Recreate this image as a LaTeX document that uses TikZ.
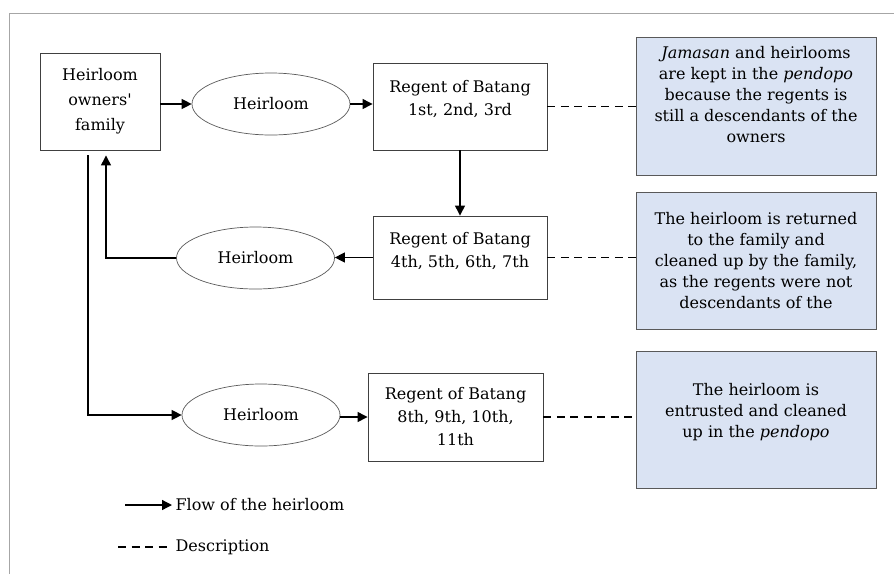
\documentclass[tikz,border=0pt]{standalone}
\usepackage{fontspec}
\setmainfont{DejaVu Serif}
\usetikzlibrary{shapes.geometric,arrows.meta}
\definecolor{descblue}{HTML}{DAE3F3}
\definecolor{framegray}{HTML}{A6A6A6}

\begin{document}
\begin{tikzpicture}[x=1pt,y=-1pt,
	box/.style={draw=black!75,line width=0.9pt,minimum width=174pt,minimum height=85pt,inner sep=0pt,align=center,font=\fontsize{16}{23}\selectfont},
	heir/.style={ellipse,draw=black!65,line width=0.7pt,minimum width=158pt,minimum height=62pt,inner sep=0pt,font=\fontsize{16}{22}\selectfont},
	desc/.style={draw=black!65,fill=descblue,line width=0.9pt,minimum width=240pt,minimum height=137pt,inner sep=0pt,align=center,font=\fontsize{16}{21}\selectfont},
	flow/.style={line width=1.3pt,-{Triangle[length=10pt,width=10pt]}},
	info/.style={line width=1.5pt,dash pattern=on 8pt off 5.5pt}]
		\useasboundingbox (0,0) rectangle (894,574);
		\draw[framegray,line width=1pt] (9,574) -- (9,13) -- (894,13);

		\node[box,minimum width=120pt,minimum height=97pt,font=\fontsize{16}{25}\selectfont] (fam) at (100,101.5) {Heirloom\\owners\textquotesingle\\family};

		%row 1
		\node[heir] (heir1) at (271,104) {Heirloom};
		\node[box,minimum height=87pt,text depth=17pt] (reg1) at (460,106.5) {Regent of Batang\\1st, 2nd, 3rd};
		\node[desc,minimum height=138pt,text depth=23pt] (desc1) at (756,106) {\textit{Jamasan} and heirlooms\\are kept in the \textit{pendopo}\\because the regents is\\still a descendants of the\\owners};

		%row 2
		\node[heir] (heir2) at (255.5,258) {Heirloom};
		\node[box,minimum height=83pt,text depth=16pt] (reg2) at (460,257.5) {Regent of Batang\\4th, 5th, 6th, 7th};
		\node[desc] (desc2) at (756,260.5) {The heirloom is returned\\to the family and\\cleaned up by the family,\\as the regents were not\\descendants of the};

		%row 3
		\node[heir] (heir3) at (261,415) {Heirloom};
		\node[box,minimum width=175pt,minimum height=88pt] (reg3) at (455.5,417) {Regent of Batang\\8th, 9th, 10th,\\11th};
		\node[desc,text depth=18pt] (desc3) at (756,419.5) {The heirloom is\\entrusted and cleaned\\up in the \textit{pendopo}};

		%flow lines
		\draw[flow] (fam.east |- heir1.west) -- (heir1.west);
		\draw[flow] (heir1.east) -- (heir1.east -| reg1.west);
		\draw[flow] (reg1) -- (reg2);
		\draw[flow] (reg2.west) -- (reg2.west -| heir2.east);
		\draw[flow] (heir2.west) -| ([xshift=6pt,yshift=-5pt]fam.south);
		\draw[flow] ([xshift=-12pt,yshift=-5pt]fam.south) |- (heir3.west);
		\draw[flow] (heir3.east |- reg3.west) -- (reg3.west);

		%description lines
		\draw[info] (reg1.east) -- (reg1.east -| desc1.west);
		\draw[info] (reg2.east) -- (reg2.east -| desc2.west);
		\draw[info] (reg3.east) -- (reg3.east -| desc3.west);

		%legend
		\coordinate (flowA) at (125,505);
		\coordinate (infoA) at (118,547);
		\node[anchor=west,font=\fontsize{16}{22}\selectfont] (flowtxt) at (172,505) {Flow of the heirloom};
		\node[anchor=west,font=\fontsize{16}{22}\selectfont] (infotxt) at (172,547) {Description};
		\draw[flow] (flowA) -- (flowtxt.west);
		\draw[info] (infoA) -- ([xshift=-5pt]infotxt.west);
	\end{tikzpicture}
\end{document}
